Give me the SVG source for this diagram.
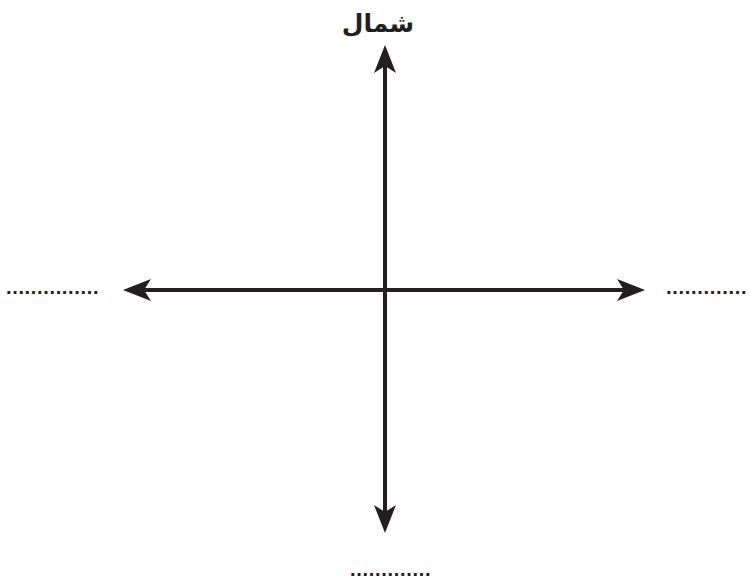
<svg xmlns="http://www.w3.org/2000/svg" width="750" height="579" viewBox="0 0 750 579">
<style>
.ax{stroke:#231f20;stroke-width:4;fill:none}
.dots{font-family:"Liberation Sans",sans-serif;font-size:20px;font-weight:bold;fill:#231f20}
.lbl{font-family:"DejaVu Sans",sans-serif;font-size:25px;font-weight:bold;fill:#231f20}
</style>
<defs>
<marker id="ah" viewBox="0 0 28 22" refX="7" refY="11" markerWidth="28" markerHeight="22" markerUnits="userSpaceOnUse" orient="auto-start-reverse">
<path d="M0,0 L28,11 L0,22 L7,11 Z" fill="#231f20"/>
</marker>
</defs>
<rect width="750" height="579" fill="#ffffff"/>
<g id="connectors">
<line class="ax" x1="385" y1="66" x2="385" y2="512" marker-start="url(#ah)" marker-end="url(#ah)"/>
<line class="ax" x1="144" y1="290" x2="624" y2="290" marker-start="url(#ah)" marker-end="url(#ah)"/>
</g>
<g id="north"><text class="lbl" x="378" y="32" text-anchor="middle">شمال</text></g>
<g id="west"><text class="dots" x="6" y="294" letter-spacing="0.65">...............</text></g>
<g id="east"><text class="dots" x="666" y="294" letter-spacing="0.7">.............</text></g>
<g id="south"><text class="dots" x="350" y="576" letter-spacing="0.7">.............</text></g>
</svg>
